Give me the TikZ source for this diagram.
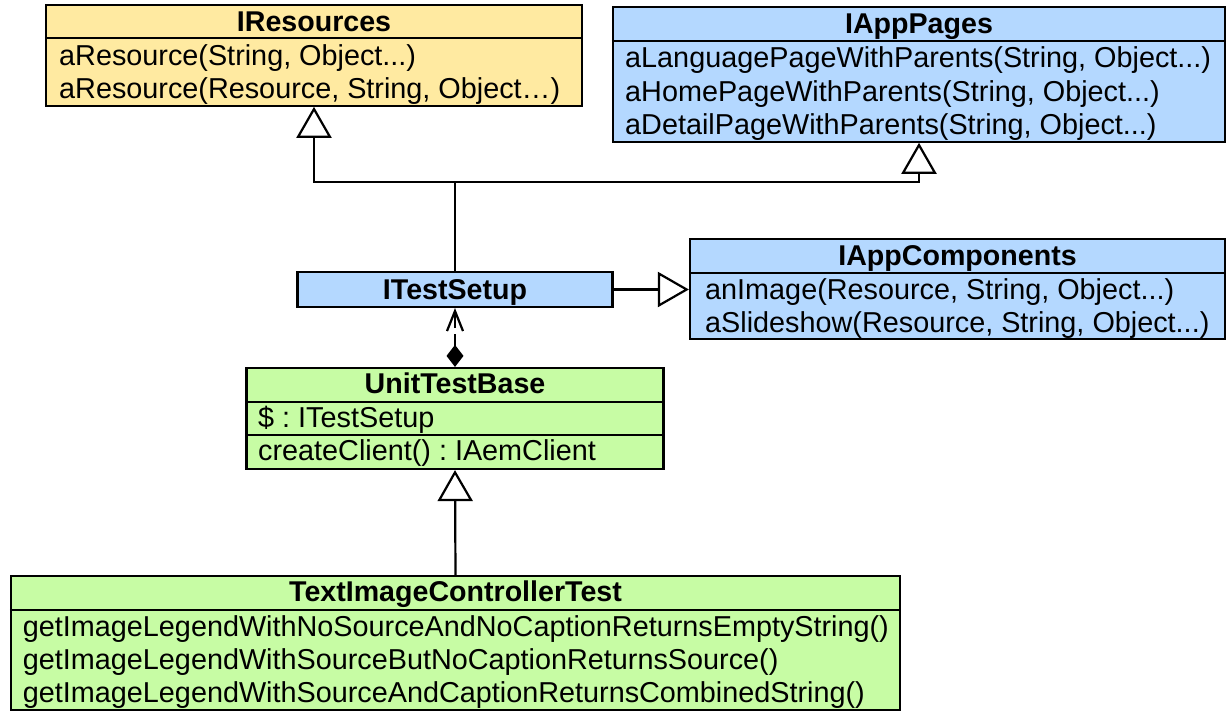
\documentclass[tikz,border=0pt]{standalone}
\usepackage{fontspec}
\setmainfont{Liberation Sans}
\usetikzlibrary{arrows.meta}
\definecolor{umlyellow}{RGB}{255,234,161}
\definecolor{umlblue}{RGB}{180,216,255}
\definecolor{umlgreen}{RGB}{199,252,164}
\frenchspacing
\begin{document}
\begin{tikzpicture}[x=1pt,y=-1pt,
  umlbox/.style={draw=black, line width=2.2pt, inner sep=0pt, rectangle},
  divider/.style={line width=2.2pt},
  ttl/.style={inner sep=0pt, anchor=base, font=\fontsize{28.6}{34}\selectfont\bfseries},
  row/.style={inner sep=0pt, anchor=base west, font=\fontsize{28.8}{34}\selectfont},
  conn/.style={line width=2.2pt},
  inh/.style={conn, -{Triangle[length=31pt,width=35pt,fill=white,line join=miter]}},
]
\useasboundingbox (0,0) rectangle (1227,712);

% IResources
\node[umlbox, fill=umlyellow, minimum width=536pt, minimum height=101pt] (ires) at (314,55.2) {};
\draw[divider] (ires.west |- 0,37.7) -- (ires.east |- 0,37.7);
\node[ttl] (iresT) at (314,31) {IResources};
\node[row] (iresR1) at (59,65) {aResource(String, Object...)};
\node[row] (iresR2) at (59,98.7) {aResource(Resource, String, Object…)};

% IAppPages
\node[umlbox, fill=umlblue, minimum width=612pt, minimum height=135pt] (iap) at (919,74.2) {};
\draw[divider] (iap.west |- 0,40.7) -- (iap.east |- 0,40.7);
\node[ttl] (iapT) at (919,33.5) {IAppPages};
\node[row] (iapR1) at (625,67.3) {aLanguagePageWithParents(String, Object...)};
\node[row] (iapR2) at (625,101) {aHomePageWithParents(String, Object...)};
\node[row] (iapR3) at (625,134.6) {aDetailPageWithParents(String, Object...)};

% ITestSetup
\node[umlbox, fill=umlblue, minimum width=315pt, minimum height=35pt] (its) at (455,289.5) {};
\node[ttl] (itsT) at (455,299) {ITestSetup};

% IAppComponents
\node[umlbox, fill=umlblue, minimum width=535pt, minimum height=100pt] (iac) at (957.5,289) {};
\draw[divider] (iac.west |- 0,273) -- (iac.east |- 0,273);
\node[ttl] (iacT) at (957.5,265.5) {IAppComponents};
\node[row] (iacR1) at (705,299.5) {anImage(Resource, String, Object...)};
\node[row] (iacR2) at (705,332.5) {aSlideshow(Resource, String, Object...)};

% UnitTestBase
\node[umlbox, fill=umlgreen, minimum width=417pt, minimum height=101pt] (uts) at (455,418.5) {};
\draw[divider] (uts.west |- 0,402) -- (uts.east |- 0,402);
\draw[divider] (uts.west |- 0,435) -- (uts.east |- 0,435);
\node[ttl] (utsT) at (455,393.5) {UnitTestBase};
\node[row] (utsR1) at (258,427) {\$ : ITestSetup};
\node[row] (utsR2) at (258,460) {createClient() : IAemClient};

% TextImageControllerTest
\node[umlbox, fill=umlgreen, minimum width=889pt, minimum height=134pt] (tic) at (455.5,643) {};
\draw[divider] (tic.west |- 0,610) -- (tic.east |- 0,610);
\node[ttl] (ticT) at (455.5,601.5) {TextImageControllerTest};
\node[row] (ticR1) at (22.7,636) {getImageLegendWithNoSourceAndNoCaptionReturnsEmptyString()};
\node[row] (ticR2) at (22.7,669.3) {getImageLegendWithSourceButNoCaptionReturnsSource()};
\node[row] (ticR3) at (22.7,702.5) {getImageLegendWithSourceAndCaptionReturnsCombinedString()};

% connectors
\coordinate (j) at (455,182);
\draw[conn] (its.north) -- (j);
\draw[inh] (j) -| (ires.south);
\draw[inh] (j) -| (iap.south);
\draw[inh] (its.east) -- (its.east -| iac.west);
\coordinate (gapA) at (455,334);
\coordinate (gapB) at (455,328);
\draw[conn, {Diamond[length=22pt,width=17pt]}-] (uts.north) -- (gapA);
\draw[conn, -{Straight Barb[length=20pt,width=16pt]}] (gapB) -- (its.south);
\draw[inh] (tic.north) -- (uts.south);
\end{tikzpicture}
\end{document}
